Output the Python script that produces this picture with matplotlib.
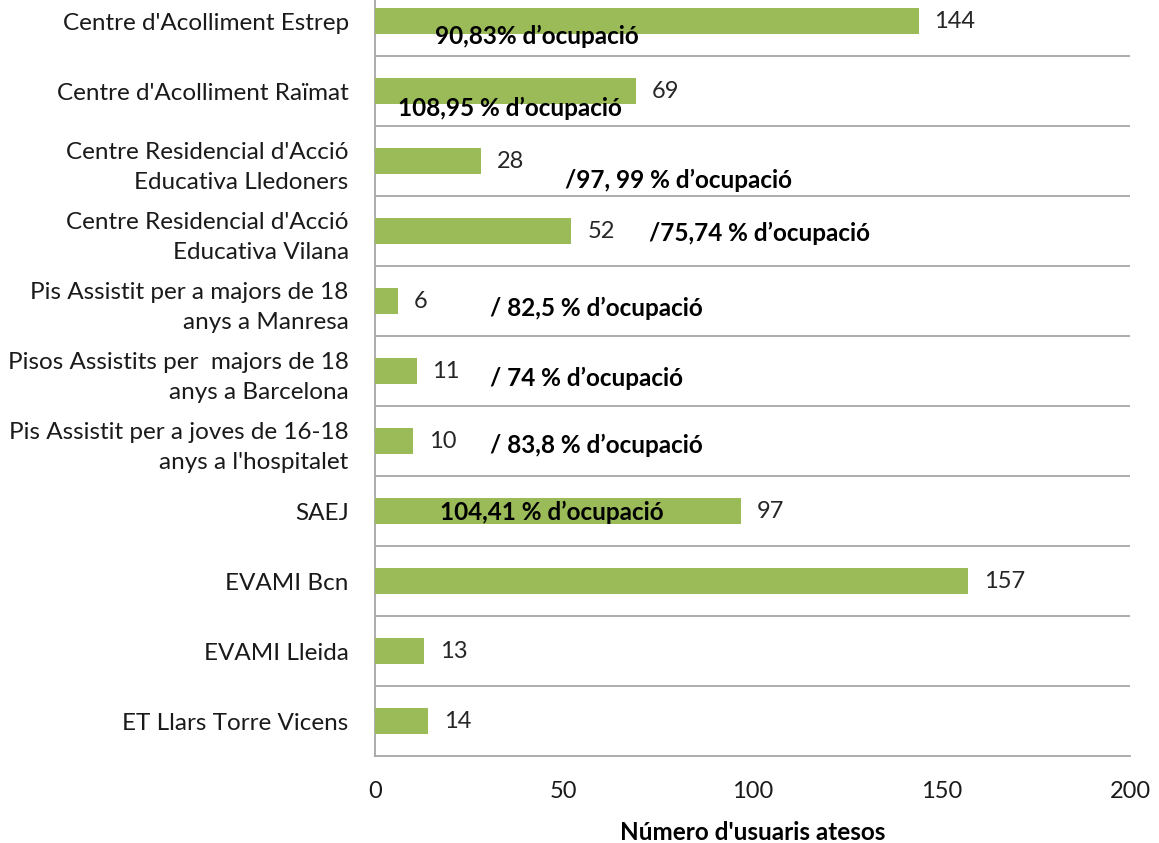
import matplotlib.pyplot as plt

plt.rcParams['font.family'] = ['Lato', 'DejaVu Sans']

# --- dades ---
centres = [
    "Centre d'Acolliment Estrep",
    "Centre d'Acolliment Raïmat",
    "Centre Residencial d'Acció\nEducativa Lledoners",
    "Centre Residencial d'Acció\nEducativa Vilana",
    "Pis Assistit per a majors de 18\nanys a Manresa",
    "Pisos Assistits per  majors de 18\nanys a Barcelona",
    "Pis Assistit per a joves de 16-18\nanys a l'hospitalet",
    "SAEJ",
    "EVAMI Bcn",
    "EVAMI Lleida",
    "ET Llars Torre Vicens",
]
usuaris = [144, 69, 28, 52, 6, 11, 10, 97, 157, 13, 14]

ocupacio = [
    "90,83% d’ocupació",
    "108,95 % d’ocupació",
    "/97, 99 % d’ocupació",
    "/75,74 % d’ocupació",
    "/ 82,5 % d’ocupació",
    "/ 74 % d’ocupació",
    "/ 83,8 % d’ocupació",
    "104,41 % d’ocupació",
]
# posició dels textos d'ocupació (x en usuaris, desplaçament vertical en files)
ocup_x = [15.9, 6.1, 50.3, 72.6, 30.5, 30.5, 30.5, 17.2]
ocup_dy = [0.22, 0.25, 0.27, 0.04, 0.1, 0.1, 0.06, 0.02]

fig = plt.figure(figsize=(11.59, 8.43), dpi=100)
ax = fig.add_axes([0.3236, 0.1032, 0.6514, 0.9134])

y = list(range(len(centres)))
ax.barh(y, usuaris, height=0.38, color='#9BBB59', zorder=3)

for i, v in enumerate(usuaris):
    ax.text(v + 4.2, i, str(v), va='center', ha='left', fontsize=17, color='#262626')

for i, txt in enumerate(ocupacio):
    ax.text(ocup_x[i], i + ocup_dy[i], txt, va='center', ha='left',
            fontsize=17.5, fontweight='bold', color='black', zorder=4)

ax.set_ylim(len(centres) - 0.5, -0.5)
ax.set_xlim(0, 200)
ax.set_xticks([0, 50, 100, 150, 200])
ax.set_yticks(y)
ax.set_yticklabels(centres, fontsize=17.5, color='#1a1a1a', linespacing=1.5)
ax.tick_params(axis='y', length=0, pad=19)
ax.tick_params(axis='x', length=0, pad=18, labelsize=17, labelcolor='#1a1a1a')

# línies horitzontals entre categories
for b in [i + 0.5 for i in range(len(centres) - 1)]:
    ax.axhline(b, color='#A6A6A6', linewidth=1.3, zorder=1)

for s in ['top', 'right']:
    ax.spines[s].set_visible(False)
ax.spines['left'].set_color('#A6A6A6')
ax.spines['bottom'].set_color('#A6A6A6')
ax.spines['left'].set_linewidth(1.3)
ax.spines['bottom'].set_linewidth(1.3)

ax.set_xlabel("Número d'usuaris atesos", fontsize=17.5, fontweight='bold', labelpad=14)

fig.savefig('out.png', dpi=100)
